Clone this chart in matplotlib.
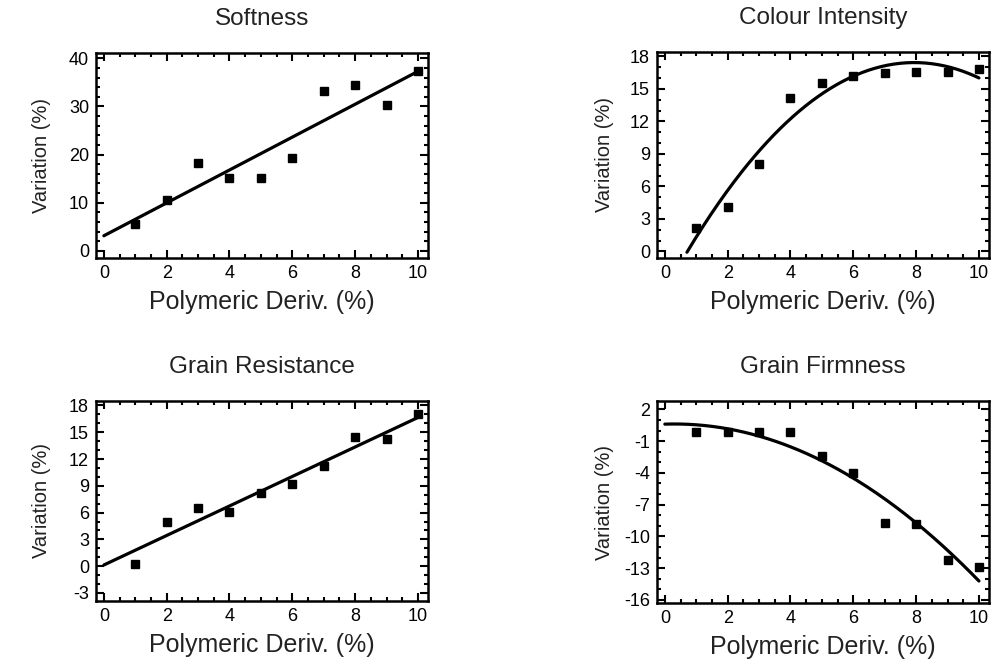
import matplotlib.pyplot as plt
import numpy as np
from matplotlib.ticker import MultipleLocator

# data
x = np.arange(1, 11)
softness = [5.5, 10.5, 18.3, 15.2, 15.1, 19.2, 33.3, 34.4, 30.3, 37.3]
colour = [2.2, 4.1, 8.1, 14.2, 15.5, 16.2, 16.5, 16.6, 16.6, 16.8]
resistance = [0.2, 5.0, 6.5, 6.1, 8.2, 9.2, 11.2, 14.5, 14.3, 17.0]
firmness = [-0.1, -0.1, -0.1, -0.1, -2.4, -4.0, -8.7, -8.8, -12.2, -12.9]

titles = ['Softness', 'Colour Intensity', 'Grain Resistance', 'Grain Firmness']
series = [softness, colour, resistance, firmness]
degrees = [1, 2, 1, 2]
ylims = [(-1.5, 41.1), (-0.6, 18.4), (-3.9, 18.5), (-16.3, 2.8)]
yticks = [np.arange(0, 41, 10), np.arange(0, 19, 3), np.arange(-3, 19, 3), np.arange(-16, 3, 3)]
yminor = [2, 1, 1, 1]

plt.rcParams['font.family'] = ['Liberation Sans', 'DejaVu Sans']
plt.rcParams['axes.unicode_minus'] = False

fig = plt.figure(figsize=(9.96, 6.68), dpi=100)
W, H = 996, 668
boxes = [(96, 53, 428, 258), (657, 52, 989, 258), (96, 401, 428, 601), (657, 401, 989, 603)]
ylab_x = [51, 614, 51, 614]

for i in range(4):
    l, t, r, b = boxes[i]
    ax = fig.add_axes([l / W, 1 - b / H, (r - l) / W, (b - t) / H])
    y = np.array(series[i])
    # fitted trend line
    coef = np.polyfit(x, y, degrees[i])
    xf = np.linspace(0, 10, 200)
    yf = np.polyval(coef, xf)
    keep = yf >= ylims[i][0] + 0.5
    ax.plot(xf[keep], yf[keep], color='black', lw=2.3, solid_capstyle='round')
    ax.plot(x, y, 's', color='black', ms=6)

    ax.set_xlim(-0.25, 10.32)
    ax.set_ylim(*ylims[i])
    ax.set_xticks(np.arange(0, 11, 2))
    ax.set_yticks(yticks[i])
    ax.xaxis.set_minor_locator(MultipleLocator(0.5))
    ax.yaxis.set_minor_locator(MultipleLocator(yminor[i]))
    ax.tick_params(which='both', direction='in', top=True, right=True, width=1.5)
    ax.tick_params(which='major', length=6, labelsize=13, pad=5)
    ax.tick_params(which='minor', length=3)
    for sp in ax.spines.values():
        sp.set_linewidth(1.8)
    ax.set_title(titles[i], fontsize=17.5, pad=20, color='#222222')
    ax.set_xlabel('Polymeric Deriv. (%)', fontsize=18, labelpad=6, color='#222222')
    ax.set_ylabel('Variation (%)', fontsize=14.5, color='#222222')
    ax.yaxis.set_label_coords((ylab_x[i] - l) / (r - l), 0.5)

fig.savefig('out.png', dpi=100)
